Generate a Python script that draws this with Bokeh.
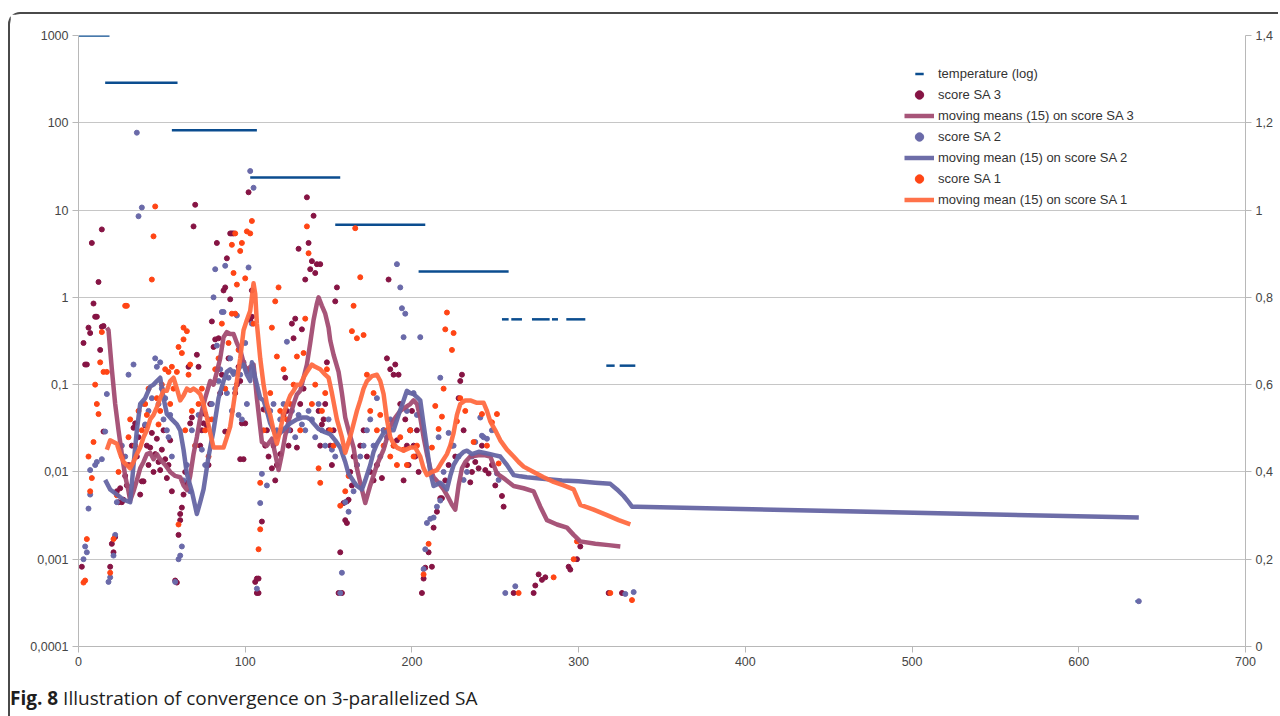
from bokeh.plotting import figure
from bokeh.models import (Range1d, LinearAxis, LinearScale, FixedTicker, CustomJSTickFormatter,
                          Legend, LegendItem, Div)
from bokeh.layouts import column
from bokeh.embed import file_html
from bokeh.resources import INLINE

# ---------------- data ----------------
# temperature (log) plateaus: value, start iteration, end iteration
temp_value = [1000, 287, 82, 23.6, 6.8, 1.98, 0.56, 0.56, 0.56, 0.56, 0.56, 0.165, 0.165, 0.00033]
temp_start = [0, 16, 56, 103, 154, 204, 254, 259.6, 272, 284, 292.6, 316.6, 324.6, 634]
temp_end = [18.6, 59.4, 107, 157, 208, 258, 258, 266, 282.6, 287.6, 304, 321.6, 334, 637]

sa3_points = [
    (2, 0.00082), (3, 0.3), (4, 0.17), (5, 0.17), (6, 0.45), (7, 0.39), (8, 4.2), (9, 0.85), (10, 0.6), (11, 0.6),
    (12, 1.5), (13, 0.25), (14, 6.0), (14, 0.46), (15, 0.47), (15, 0.029),
    (19, 0.00082), (20, 0.0015), (21, 0.0012), (22, 0.0018), (23, 0.006), (24, 0.0045), (25, 0.0065), (26, 0.0045),
    (27, 0.0048), (28, 0.009), (29, 0.007), (30, 0.012), (31, 0.0055), (32, 0.02), (33, 0.032), (34, 0.036),
    (35, 0.015), (36, 0.025), (37, 0.0055), (38, 0.0078), (39, 0.0078), (40, 0.034), (41, 0.02), (42, 0.012),
    (43, 0.019), (44, 0.028), (45, 0.01), (46, 0.016), (47, 0.024), (48, 0.013), (49, 0.0105), (50, 0.018),
    (51, 0.03), (52, 0.014), (53, 0.0085), (54, 0.012), (55, 0.023), (56, 0.006),
    (58, 0.00057), (59, 0.00054), (60, 0.0019), (61, 0.0028), (61, 0.0033), (62, 0.0039), (63, 0.0055), (64, 0.01),
    (65, 0.0075), (66, 0.16), (67, 0.036), (68, 0.042), (69, 6.5), (70, 11.5), (71, 0.22), (72, 0.16), (73, 0.02),
    (74, 0.03), (75, 0.036), (76, 0.046), (77, 0.034), (78, 0.012),
    (79, 0.06), (80, 0.53), (81, 0.27), (82, 0.33), (83, 4.2), (84, 0.34), (85, 0.08), (86, 0.13), (87, 1.2),
    (88, 1.3), (88, 0.029), (89, 2.8), (90, 0.2), (91, 0.95), (91, 5.4), (92, 5.4), (93, 5.4), (94, 0.08),
    (95, 0.1), (96, 0.16), (97, 0.014), (97, 0.11), (98, 0.036), (99, 0.014), (100, 0.036), (101, 0.15),
    (102, 16), (103, 0.55), (104, 1.2), (104, 0.6),
    (106, 0.00055), (107, 0.0006), (107, 0.00041), (108, 0.0006), (108, 0.00041), (110, 0.0027), (111, 0.052),
    (112, 0.02), (113, 0.03), (114, 0.015), (116, 0.011), (117, 0.02), (118, 0.008), (119, 0.012), (121, 0.016),
    (122, 0.03), (123, 0.045), (124, 0.12), (125, 0.05), (126, 0.02), (127, 0.03), (128, 0.5), (129, 0.34),
    (130, 0.57), (131, 0.019), (132, 3.6), (133, 0.06), (134, 0.43), (135, 0.09), (136, 1.6), (137, 14),
    (138, 4.2), (139, 2.1), (140, 2.6), (141, 8.6), (142, 1.9), (143, 2.4), (144, 0.05), (145, 2.4), (145, 0.02),
    (146, 0.035), (147, 0.04), (148, 0.06), (149, 0.18), (150, 0.03), (151, 0.02), (152, 0.012), (153, 0.03),
    (154, 0.9), (155, 1.3), (156, 0.00041),
    (157, 0.0012), (158, 0.00041), (159, 0.0044), (160, 0.0028), (161, 0.0026), (161, 0.0046), (162, 0.0048),
    (163, 0.01), (164, 0.007), (165, 0.015), (167, 0.012), (169, 0.02), (171, 0.03), (173, 0.015), (175, 0.01),
    (177, 0.008), (179, 0.012), (182, 0.0085), (183, 0.03), (185, 0.2), (186, 1.6), (187, 0.15), (189, 0.13),
    (190, 0.17), (191, 0.023), (192, 0.13), (193, 0.06), (195, 0.008), (196, 0.04), (197, 0.02), (198, 0.012),
    (199, 0.03), (200, 0.05), (201, 0.02), (202, 0.015), (203, 0.03), (204, 0.01),
    (206, 0.00041), (207, 0.0006), (208, 0.0008), (210, 0.0012), (212, 0.00082), (213, 0.0023), (215, 0.0035),
    (217, 0.005), (218, 0.005), (220, 0.008), (222, 0.012), (224, 0.02), (226, 0.015), (228, 0.07), (229, 0.11),
    (230, 0.13), (231, 0.03), (233, 0.012), (235, 0.0076), (236, 0.01), (238, 0.013), (240, 0.011), (242, 0.02),
    (244, 0.0105), (246, 0.0096), (248, 0.012), (250, 0.007), (254, 0.0053), (255, 0.004),
    (261, 0.00041), (273, 0.00041), (274, 0.0005), (276, 0.00067), (278, 0.00058), (280, 0.00062),
    (294, 0.00082), (295, 0.00076), (299, 0.001), (301, 0.0014), (318, 0.00041), (326, 0.00041),
]

sa2_points = [
    (3, 0.001), (4, 0.0014), (5, 0.0012), (6, 0.0038), (7, 0.0055), (7, 0.0105), (10, 0.012), (11, 0.013),
    (14, 0.014), (16, 0.029), (17, 0.078),
    (18, 0.00055), (19, 0.00062), (21, 0.0011), (22, 0.0019), (23, 0.0045), (26, 0.02), (28, 0.015), (30, 0.13),
    (33, 0.17), (35, 77), (36, 8.5), (38, 10.7), (39, 0.06), (40, 0.035), (42, 0.05), (44, 0.07), (46, 0.2),
    (47, 0.16), (48, 0.06), (49, 0.18), (50, 0.09), (51, 0.04), (52, 0.07), (53, 0.03), (54, 0.025), (55, 0.045),
    (56, 0.015),
    (58, 0.00055), (60, 0.001), (61, 0.0011), (62, 0.0014), (63, 0.008), (65, 0.012), (67, 0.006), (68, 0.03),
    (70, 0.02), (72, 0.045), (74, 0.018), (76, 0.012), (78, 0.04),
    (80, 0.06), (81, 1.0), (82, 2.1), (83, 0.28), (84, 0.11), (85, 0.15), (86, 0.68), (87, 0.68), (88, 2.3),
    (89, 0.08), (90, 0.12), (91, 0.2), (92, 0.05), (93, 0.14), (94, 0.09), (95, 0.62), (96, 0.045), (97, 0.13),
    (98, 0.04), (99, 0.18), (100, 0.3), (101, 0.06), (102, 2.2), (103, 28), (105, 18), (104, 0.5),
    (107, 0.00046), (109, 0.0044), (110, 0.0095), (113, 0.007), (115, 0.05), (117, 0.06), (119, 0.03),
    (121, 0.04), (123, 0.06), (125, 0.31), (126, 0.03), (128, 0.05), (130, 0.025), (132, 0.045), (134, 0.035),
    (136, 0.03), (138, 0.05), (140, 0.04), (142, 0.025), (144, 0.06), (146, 0.03), (148, 0.02), (150, 0.04),
    (152, 0.018), (154, 0.015),
    (157, 0.00041), (158, 0.0007), (160, 0.0045), (162, 0.0035), (165, 0.006), (167, 0.012), (169, 0.015),
    (171, 0.02), (173, 0.03), (175, 0.04), (177, 0.02), (179, 0.07), (181, 0.015), (183, 0.03), (185, 0.025),
    (187, 0.04), (189, 0.02), (191, 2.4), (193, 1.3), (194, 0.75), (195, 0.35), (196, 0.65), (197, 0.05),
    (199, 0.03), (201, 0.08), (203, 0.045), (205, 0.35),
    (207, 0.00077), (208, 0.0013), (209, 0.0026), (211, 0.0029), (213, 0.003), (215, 0.004), (217, 0.0047),
    (216, 0.025), (217, 0.12), (219, 0.01), (222, 0.028), (225, 0.02), (228, 0.015), (231, 0.0081), (233, 0.01),
    (236, 0.015), (238, 0.022), (241, 0.042), (242, 0.026), (243, 0.025), (245, 0.024), (248, 0.03),
    (251, 0.0096), (252, 0.0081),
    (256, 0.00041), (262, 0.00049), (328, 0.0004), (333, 0.00042), (636, 0.00033),
]

sa1_points = [
    (3, 0.00054), (4, 0.00057), (5, 0.0017), (6, 0.015), (7, 0.006), (8, 0.0085), (9, 0.022), (10, 0.1),
    (11, 0.06), (12, 0.046), (13, 0.18), (14, 0.4), (15, 0.14), (17, 0.14),
    (19, 0.0007), (21, 0.0017), (23, 0.0054), (24, 0.01), (26, 0.015), (28, 0.8), (29, 0.8), (30, 0.025),
    (31, 0.04), (32, 0.012), (34, 0.02), (36, 0.05), (38, 0.03), (40, 0.06), (41, 0.045), (42, 0.09), (44, 1.6),
    (45, 5.0), (46, 11), (47, 0.07), (48, 0.035), (49, 0.05), (50, 0.1), (52, 0.15), (54, 0.14), (55, 0.06),
    (56, 0.16), (57, 0.09),
    (60, 0.0025), (59, 0.14), (60, 0.27), (62, 0.23), (63, 0.45), (63, 0.33), (65, 0.41), (66, 0.13), (67, 0.17),
    (64, 0.03), (68, 0.05), (70, 0.02), (72, 0.06), (74, 0.09), (76, 0.03), (78, 0.015),
    (80, 0.04), (82, 0.15), (84, 0.2), (86, 0.5), (88, 0.09), (90, 0.3), (92, 4.0), (92, 0.65), (93, 1.9),
    (94, 5.4), (94, 0.65), (95, 1.4), (96, 0.25), (97, 3.4), (98, 4.2), (100, 1.65), (101, 5.7), (103, 5.4),
    (104, 7.5), (105, 0.5),
    (108, 0.0013), (109, 0.0022), (109, 0.0075), (111, 0.03), (113, 0.05), (115, 0.08), (116, 0.45), (118, 0.9),
    (119, 0.21), (120, 1.3), (121, 0.05), (123, 0.15), (125, 0.04), (127, 0.06), (129, 0.1), (131, 0.21),
    (133, 0.03), (135, 0.23), (136, 0.57), (137, 6.5), (138, 3.2), (140, 0.06), (142, 0.1), (144, 0.011),
    (145, 0.0075), (146, 0.05), (148, 0.08), (149, 0.15), (151, 0.03), (153, 0.02),
    (157, 0.0041), (160, 0.006), (162, 0.009), (164, 0.41), (165, 0.8), (166, 6.2), (167, 0.34), (169, 1.7),
    (171, 0.37), (173, 0.13), (175, 0.05), (177, 0.08), (179, 0.03), (181, 0.045), (183, 0.02), (185, 0.03),
    (187, 0.015), (189, 0.02), (191, 0.012), (193, 0.025), (195, 0.018), (197, 0.012), (199, 0.03),
    (201, 0.015), (203, 0.02),
    (207, 0.00067), (210, 0.0015), (212, 0.019), (214, 0.057), (216, 0.031), (218, 0.043), (219, 0.09),
    (220, 0.43), (221, 0.67), (224, 0.25), (225, 0.39), (227, 0.038), (229, 0.07), (232, 0.05), (237, 0.022),
    (242, 0.046), (245, 0.02), (248, 0.037), (251, 0.046), (252, 0.0125),
    (264, 0.00041), (285, 0.00062), (297, 0.001), (299, 0.0016), (319, 0.00041), (332, 0.00034),
]

# moving means (15)
sa3_mean_x = [17, 18, 20, 22, 24, 26, 28, 30, 31, 33, 35, 37, 39, 41, 43, 45, 47, 49, 52, 55, 58, 61, 63, 65, 67,
              69, 71, 73, 76, 79, 81, 83, 85, 87, 89, 91, 93, 95, 97, 99, 101, 103, 105, 107, 110, 113, 116, 118,
              120, 122, 124, 126, 129, 131, 133, 135, 137, 139, 141, 143, 144, 146, 148, 150, 151, 153, 156, 158,
              160, 162, 165, 167, 169, 172, 175, 179, 183, 187, 190, 193, 196, 199, 201, 203, 205, 207, 209, 211,
              213, 216, 219, 222, 224, 226, 228, 230, 232, 235, 240, 244, 247, 249, 251, 256, 261, 267, 273, 277,
              281, 287, 293, 297, 301, 310, 318, 325]
sa3_mean_y = [0.45, 0.42, 0.15, 0.06, 0.03, 0.016, 0.009, 0.006, 0.0047, 0.006, 0.008, 0.011, 0.013, 0.016,
              0.0166, 0.014, 0.016, 0.014, 0.012, 0.01, 0.009, 0.0087, 0.007, 0.0062, 0.009, 0.016, 0.025, 0.042,
              0.07, 0.11, 0.1, 0.14, 0.2, 0.35, 0.4, 0.38, 0.38, 0.3, 0.25, 0.18, 0.14, 0.16, 0.17, 0.07, 0.022,
              0.02, 0.024, 0.016, 0.0105, 0.016, 0.026, 0.038, 0.06, 0.077, 0.085, 0.12, 0.17, 0.3, 0.55, 0.85, 1.0,
              0.8, 0.65, 0.45, 0.32, 0.22, 0.14, 0.08, 0.042, 0.03, 0.019, 0.011, 0.0075, 0.0044, 0.007, 0.012,
              0.018, 0.033, 0.042, 0.05, 0.055, 0.06, 0.066, 0.06, 0.042, 0.025, 0.016, 0.011, 0.0087, 0.0075,
              0.0063, 0.005, 0.0042, 0.0037, 0.007, 0.011, 0.013, 0.015, 0.0155, 0.0155, 0.015, 0.012, 0.0096,
              0.0082, 0.0069, 0.0065, 0.006, 0.004, 0.0028, 0.0025, 0.0023, 0.0019, 0.0016, 0.0015, 0.00145, 0.0014]

sa2_mean_x = [16, 19, 23, 27, 31, 33, 35, 37, 40, 43, 45, 47, 49, 51, 53, 56, 59, 61, 63, 65, 68, 71, 73, 75, 78,
              81, 84, 87, 89, 91, 93, 95, 97, 99, 101, 103, 104, 106, 109, 111, 113, 115, 117, 119, 121, 124, 127,
              131, 134, 137, 139, 141, 144, 147, 151, 154, 157, 160, 162, 165, 167, 170, 172, 175, 177, 179, 183,
              186, 189, 192, 195, 197, 199, 201, 203, 205, 207, 209, 211, 213, 215, 217, 219, 221, 223, 225, 228,
              231, 233, 236, 240, 243, 247, 250, 253, 257, 261, 265, 269, 280, 290, 300, 310, 319, 323, 327, 330,
              332, 335, 636]
sa2_mean_y = [0.0081, 0.0063, 0.0055, 0.0048, 0.0045, 0.012, 0.03, 0.06, 0.07, 0.095, 0.1, 0.11, 0.12, 0.07,
              0.046, 0.04, 0.035, 0.03, 0.018, 0.0095, 0.006, 0.0033, 0.0045, 0.0063, 0.015, 0.03, 0.07, 0.11, 0.14,
              0.15, 0.13, 0.14, 0.16, 0.17, 0.13, 0.11, 0.18, 0.12, 0.07, 0.066, 0.05, 0.036, 0.03, 0.025, 0.028,
              0.032, 0.036, 0.04, 0.042, 0.042, 0.04, 0.036, 0.031, 0.029, 0.027, 0.023, 0.019, 0.013, 0.0095,
              0.0078, 0.0069, 0.0063, 0.008, 0.012, 0.017, 0.021, 0.028, 0.03, 0.03, 0.045, 0.066, 0.085, 0.08,
              0.078, 0.072, 0.066, 0.035, 0.019, 0.01, 0.0069, 0.0072, 0.0075, 0.007, 0.0063, 0.009, 0.012, 0.015,
              0.017, 0.0175, 0.016, 0.017, 0.0166, 0.016, 0.0155, 0.015, 0.012, 0.0092, 0.0089, 0.0087, 0.0083,
              0.008, 0.0078, 0.0075, 0.0073, 0.0063, 0.0053, 0.0045, 0.004, 0.004, 0.003]

sa1_mean_x = [17, 19, 21, 23, 25, 27, 29, 31, 33, 35, 37, 39, 41, 43, 45, 47, 49, 51, 53, 55, 57, 59, 61, 63, 65,
              67, 69, 71, 73, 75, 77, 79, 81, 84, 87, 89, 91, 93, 95, 97, 99, 101, 103, 105, 106, 107, 109, 111,
              113, 115, 117, 119, 121, 123, 125, 127, 129, 131, 133, 135, 137, 140, 142, 145, 148, 150, 152, 155,
              158, 160, 162, 164, 167, 169, 171, 173, 176, 179, 181, 183, 185, 187, 189, 191, 195, 199, 202, 205,
              207, 209, 212, 215, 218, 221, 223, 225, 227, 229, 232, 235, 239, 243, 245, 247, 250, 253, 257, 261,
              264, 267, 273, 279, 285, 291, 297, 301, 309, 317, 324, 331]
sa1_mean_y = [0.018, 0.023, 0.022, 0.021, 0.016, 0.013, 0.012, 0.011, 0.013, 0.016, 0.019, 0.025, 0.03, 0.04,
              0.045, 0.055, 0.07, 0.085, 0.085, 0.11, 0.12, 0.09, 0.066, 0.075, 0.09, 0.085, 0.09, 0.085, 0.078,
              0.06, 0.042, 0.028, 0.019, 0.019, 0.019, 0.025, 0.033, 0.06, 0.11, 0.2, 0.42, 0.55, 0.7, 1.45, 1.1,
              0.5, 0.2, 0.1, 0.06, 0.045, 0.03, 0.021, 0.03, 0.046, 0.06, 0.075, 0.085, 0.1, 0.1, 0.12, 0.14, 0.17,
              0.16, 0.15, 0.13, 0.12, 0.08, 0.04, 0.025, 0.0166, 0.022, 0.03, 0.05, 0.066, 0.09, 0.11, 0.125, 0.13,
              0.11, 0.078, 0.04, 0.025, 0.021, 0.019, 0.0175, 0.019, 0.019, 0.015, 0.011, 0.0092, 0.01, 0.0105,
              0.013, 0.016, 0.02, 0.028, 0.045, 0.06, 0.066, 0.066, 0.062, 0.062, 0.05, 0.038, 0.03, 0.023, 0.018,
              0.015, 0.013, 0.0115, 0.01, 0.0087, 0.0077, 0.007, 0.0063, 0.0042, 0.0037, 0.0032, 0.0028, 0.0025]

x_ticks = [0, 100, 200, 300, 400, 500, 600, 700]
left_ticks = [0.0001, 0.001, 0.01, 0.1, 1, 10, 100, 1000]
right_ticks = [0, 0.2, 0.4, 0.6, 0.8, 1.0, 1.2, 1.4]

# ---------------- styling ----------------
C_TEMP = "#0b4d8f"
C_SA3 = "#861444"
C_SA3_LINE = "#a24c72"
C_SA2 = "#6a6aa9"
C_SA2_LINE = "#6565a3"
C_SA1 = "#ff4515"
C_SA1_LINE = "#ff6a40"
AX = "#b8b8b8"
TXT = "#454545"
FONT = "Liberation Sans"
NAN = float("nan")

p = figure(width=1268, height=666, y_axis_type="log",
           x_range=Range1d(0, 700), y_range=Range1d(0.0001, 1000),
           output_backend="svg", toolbar_location=None,
           min_border_left=68, min_border_right=33, min_border_top=21, min_border_bottom=34)
p.outline_line_color = None
p.background_fill_color = "white"
p.border_fill_color = "white"

p.extra_y_ranges = {"r": Range1d(0, 1.4)}
p.extra_y_scales = {"r": LinearScale()}
raxis = LinearAxis(y_range_name="r", ticker=FixedTicker(ticks=right_ticks))
raxis.formatter = CustomJSTickFormatter(code="""
    var s = tick.toFixed(1).replace('.', ',');
    return s.replace(',0', '');
""")
p.add_layout(raxis, "right")

p.xaxis.ticker = FixedTicker(ticks=x_ticks)
p.yaxis[0].ticker = FixedTicker(ticks=left_ticks)
p.yaxis[0].formatter = CustomJSTickFormatter(code="""
    if (tick >= 1) { return Math.round(tick).toString(); }
    return tick.toPrecision(1).replace('.', ',');
""")

for ax in p.axis:
    ax.axis_line_color = AX
    ax.major_tick_line_color = AX
    ax.minor_tick_line_color = None
    ax.major_tick_in = 0
    ax.major_tick_out = 6
    ax.major_label_standoff = 4
    ax.major_label_text_font = FONT
    ax.major_label_text_font_size = "12.5px"
    ax.major_label_text_color = TXT

p.xgrid.visible = False
p.ygrid.ticker = FixedTicker(ticks=left_ticks)
p.ygrid.grid_line_color = "#c6c6c6"
p.ygrid.grid_line_width = 1

# temperature segments
p.segment(x0=temp_start, y0=temp_value, x1=temp_end, y1=temp_value,
          line_color=C_TEMP, line_width=2.5)

def split(points):
    return [a for a, b in points], [b for a, b in points]

sa3_x, sa3_y = split(sa3_points)
sa2_x, sa2_y = split(sa2_points)
sa1_x, sa1_y = split(sa1_points)

p.scatter(sa3_x, sa3_y, size=5, color=C_SA3)
p.scatter(sa2_x, sa2_y, size=5, color=C_SA2)
p.scatter(sa1_x, sa1_y, size=5, color=C_SA1)
l3 = p.line(sa3_mean_x, sa3_mean_y, line_color=C_SA3_LINE, line_width=4.5, line_alpha=0.95, line_join="round")
l2 = p.line(sa2_mean_x, sa2_mean_y, line_color=C_SA2_LINE, line_width=4.5, line_alpha=0.95, line_join="round")
l1 = p.line(sa1_mean_x, sa1_mean_y, line_color=C_SA1_LINE, line_width=4.5, line_alpha=0.95, line_join="round")

# legend-only glyphs (not drawn in the plot: NaN positions)
temp_leg = p.scatter(x=[NAN], y=[NAN], marker="dash", size=9, line_color=C_TEMP, line_width=2.5)
r3_leg = p.scatter(x=[NAN], y=[NAN], size=8, color=C_SA3)
r2_leg = p.scatter(x=[NAN], y=[NAN], size=8, color=C_SA2)
r1_leg = p.scatter(x=[NAN], y=[NAN], size=8, color=C_SA1)

legend = Legend(items=[
    LegendItem(label="temperature (log)", renderers=[temp_leg]),
    LegendItem(label="score SA 3", renderers=[r3_leg]),
    LegendItem(label="moving means (15) on score SA 3", renderers=[l3]),
    LegendItem(label="score SA 2", renderers=[r2_leg]),
    LegendItem(label="moving mean (15) on score SA 2", renderers=[l2]),
    LegendItem(label="score SA 1", renderers=[r1_leg]),
    LegendItem(label="moving mean (15) on score SA 1", renderers=[l1]),
], location=(826, 436))
legend.glyph_width = 30
legend.glyph_height = 21
legend.label_height = 21
legend.spacing = 0
legend.padding = 0
legend.margin = 0
legend.label_standoff = 4
legend.label_text_font = FONT
legend.label_text_font_size = "13px"
legend.label_text_color = "#333333"
legend.background_fill_alpha = 0
legend.border_line_alpha = 0
p.add_layout(legend, "center")

caption = Div(text='<b>Fig. 8</b> Illustration of convergence on 3-parallelized SA',
              styles={"font-family": "Open Sans", "font-size": "19px", "color": "#1e1e1e",
                      "white-space": "nowrap"},
              width=700, height=28, margin=(5, 5, 5, 0))

layout = column(p, caption, styles={"border-top": "2px solid #4a4a4a", "border-left": "2px solid #4a4a4a",
                                    "border-top-left-radius": "12px", "margin-top": "12px",
                                    "margin-left": "8px", "background-color": "white"})

open("out.html", "w").write(file_html(layout, INLINE))
